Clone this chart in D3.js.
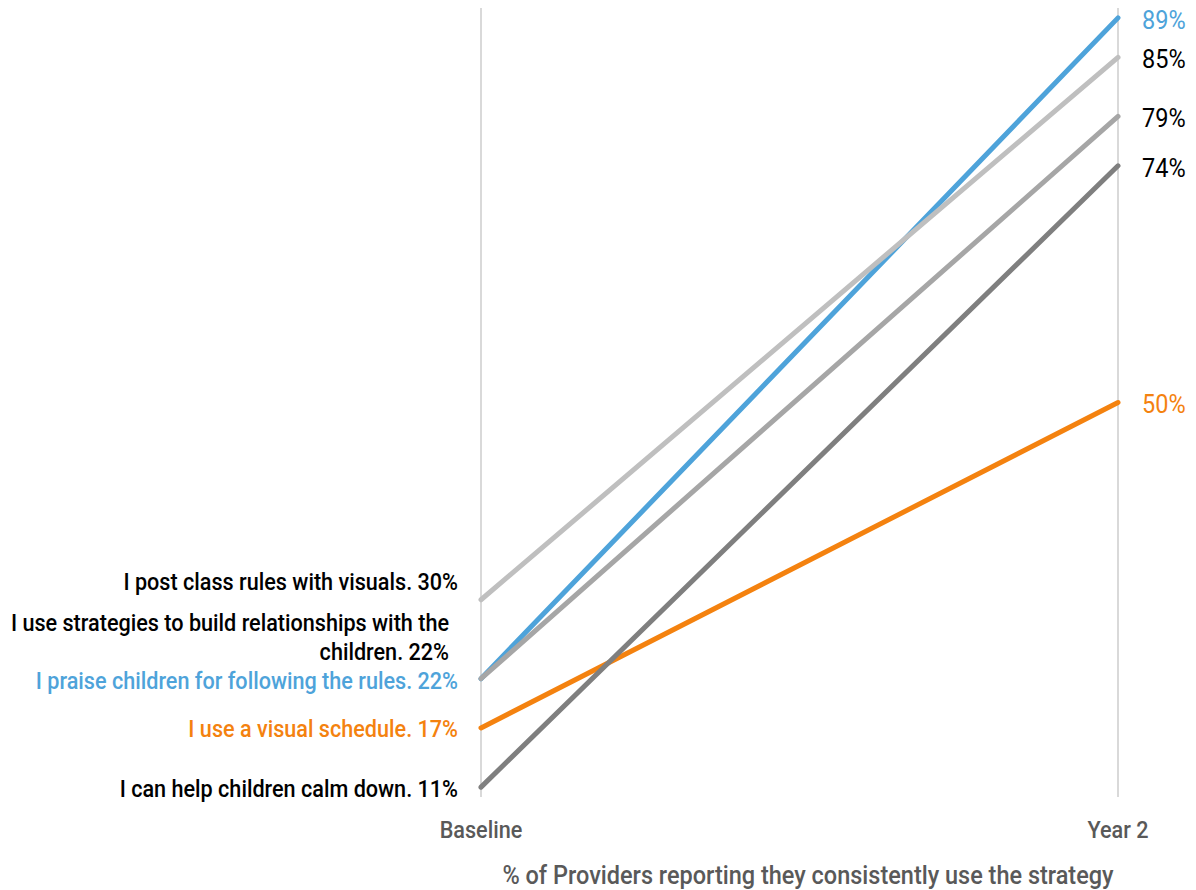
<!DOCTYPE html>
<html>
<head>
<meta charset="utf-8">
<script src="https://cdn.jsdelivr.net/npm/d3@7"></script>
<style>
  html, body { margin: 0; padding: 0; background: #fff; }
  svg { display: block; }
  text { font-family: Roboto, "Noto Sans", sans-serif; font-weight: 500; }
  .end-value { font-weight: 400; }
</style>
</head>
<body>
<svg id="chart" width="1196" height="890"></svg>
<script>
// Time points on the x axis
const periods = ["Baseline", "Year 2"];

// Strategy names (drawing order: later entries sit on top)
const strategies = [
  "I praise children for following the rules.",
  "I use a visual schedule.",
  "I can help children calm down.",
  "I use strategies to build relationships with the children.",
  "I post class rules with visuals."
];

// % of providers at Baseline and at Year 2
const baselineValues = [22, 17, 11, 22, 30];
const year2Values = [89, 50, 74, 79, 85];

const lineColors = ["#4EA3DA", "#F4820F", "#7F7F7F", "#A6A6A6", "#BFBFBF"];
const labelColors = ["#4EA3DA", "#F4820F", "#000000", "#000000", "#000000"];

const axisTitle = "% of Providers reporting they consistently use the strategy";

const svg = d3.select("#chart");

const x = d3.scalePoint().domain(periods).range([481, 1118]);
const y = d3.scaleLinear().domain([10, 90]).range([797, 8]);

// Narrow type: every label is squeezed horizontally by the same factor
const CONDENSE = 0.94;
function placeText(sel, px, py) {
  sel.attr("transform", `translate(${px},${py}) scale(${CONDENSE},1)`);
  return sel;
}

// Vertical guide lines at each period
svg.append("g")
  .selectAll("line")
  .data(periods)
  .join("line")
  .attr("x1", d => x(d)).attr("x2", d => x(d))
  .attr("y1", y(90)).attr("y2", y(10))
  .attr("stroke", "#D9D9D9")
  .attr("stroke-width", 2);

// Slope lines
const series = strategies.map((name, i) => ({
  name,
  values: [baselineValues[i], year2Values[i]],
  lineColor: lineColors[i],
  labelColor: labelColors[i]
}));

const line = d3.line()
  .x((d, i) => x(periods[i]))
  .y(d => y(d));

svg.append("g")
  .selectAll("path")
  .data(series)
  .join("path")
  .attr("d", d => line(d.values))
  .attr("fill", "none")
  .attr("stroke", d => d.lineColor)
  .attr("stroke-width", 5)
  .attr("stroke-linecap", "round");

// Left-hand labels (name + baseline value); the long one wraps onto two rows
const leftOffsets = {
  "I post class rules with visuals.": [-18],
  "I use strategies to build relationships with the children.": [-56, -27],
  "I praise children for following the rules.": [2],
  "I use a visual schedule.": [1],
  "I can help children calm down.": [2]
};
const wrapAt = {
  "I use strategies to build relationships with the children.": "I use strategies to build relationships with the"
};

const leftG = svg.append("g").attr("text-anchor", "end").attr("font-size", 23);
series.forEach(s => {
  const base = y(s.values[0]);
  const full = s.name + " " + s.values[0] + "%";
  let rows = [full];
  let rightPad = 0;
  if (wrapAt[s.name]) {
    const first = wrapAt[s.name];
    rows = [first, full.slice(first.length + 1)];
    rightPad = 9;
  }
  const offs = leftOffsets[s.name];
  rows.forEach((t, j) => {
    const el = leftG.append("text")
      .attr("dy", "0.35em")
      .attr("fill", s.labelColor)
      .text(t);
    placeText(el, 458 - rightPad, base + offs[j]);
  });
});

// Right-hand value labels
const rightG = svg.append("g").attr("font-size", 25);
series.forEach(s => {
  const el = rightG.append("text")
    .attr("class", "end-value")
    .attr("dy", "0.35em")
    .attr("fill", s.labelColor)
    .text(s.values[1] + "%");
  placeText(el, 1142, y(s.values[1]) + 2);
});

// Period labels
const periodG = svg.append("g")
  .attr("text-anchor", "middle")
  .attr("font-size", 23)
  .attr("fill", "#595959");
periods.forEach(p => {
  placeText(periodG.append("text").attr("dy", "0.35em").text(p), x(p), 830);
});

// Axis title
placeText(
  svg.append("text")
    .attr("dy", "0.35em")
    .attr("text-anchor", "middle")
    .attr("font-size", 25)
    .attr("fill", "#595959")
    .text(axisTitle),
  808, 875);
</script>
</body>
</html>
